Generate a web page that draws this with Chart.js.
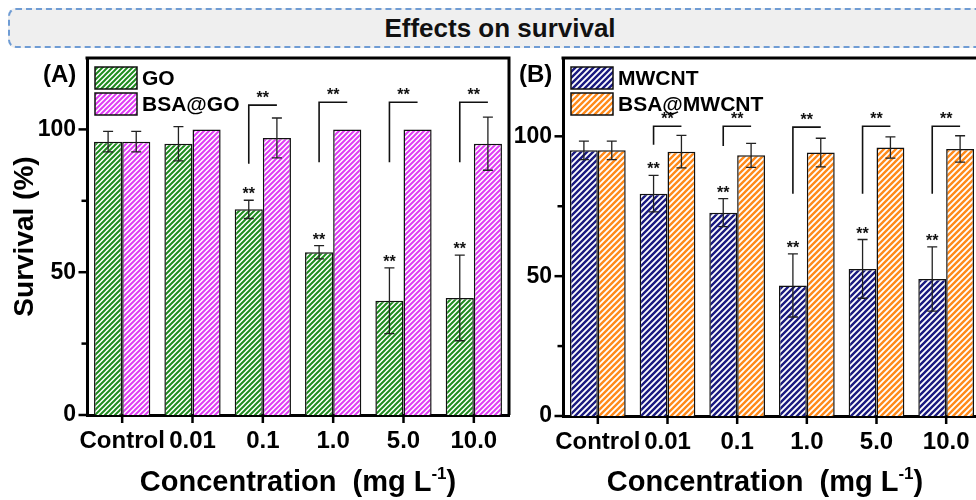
<!DOCTYPE html>
<html>
<head>
<meta charset="utf-8">
<title>Effects on survival</title>
<script src="https://cdn.jsdelivr.net/npm/chart.js@4.4.1/dist/chart.umd.min.js"></script>
<style>
  html, body { margin: 0; padding: 0; background: #fff; overflow: hidden; }
  body { width: 976px; height: 500px; position: relative; font-family: "Liberation Sans", Arial, sans-serif; }
  #banner {
    position: absolute; left: 8px; top: 8px; width: 984px; height: 40px;
    box-sizing: border-box; background: #efefef;
    border: 2px dashed #6f9cd4; border-radius: 8px;
    text-align: center; line-height: 36px;
    font-weight: bold; font-size: 26px; color: #111;
  }
  canvas { position: absolute; top: 0; }
  #panelA { left: 0; }
  #panelB { left: 505px; }
</style>
</head>
<body>
<div id="banner">Effects on survival</div>
<canvas id="panelA" width="520" height="500"></canvas>
<canvas id="panelB" width="490" height="500"></canvas>
<script>
// concentrations (mg/L), shared by both panels
const concentrations = ['Control', '0.01', '0.1', '1.0', '5.0', '10.0'];

// survival (%) and SD, panel A
const goSurvival    = [95.7, 95.0, 72.0, 57.0, 40.0, 41.0];
const goError       = [3.6, 6.0, 3.2, 2.3, 11.5, 15.0];
const bsaGoSurvival = [95.7, 100, 97.0, 100, 100, 95.0];
const bsaGoError    = [3.6, 0, 7.0, 0, 0, 9.3];

// survival (%) and SD, panel B
const mwcntSurvival    = [95.0, 79.5, 72.7, 46.7, 52.6, 49.0];
const mwcntError       = [3.3, 6.5, 5.0, 11.3, 10.5, 11.5];
const bsaMwcntSurvival = [95.0, 94.5, 93.2, 94.2, 96.0, 95.5];
const bsaMwcntError    = [3.3, 5.8, 4.3, 5.1, 3.8, 4.7];

// ** vs control over the bare material
const goStars    = [false, false, true, true, true, true];
const mwcntStars = [false, true, true, true, true, true];
// bare vs coated brackets: leg bottom / top, in % survival
const goBracketLow     = [null, null, 88, 88.5, 88.5, 88.5];
const goBracketHigh    = [null, null, 108.5, 109.5, 109.5, 109.5];
const mwcntBracketLow  = [null, 97, 96.5, 79.5, 79.5, 79.5];
const mwcntBracketHigh = [null, 103.6, 103.6, 103.3, 103.6, 103.6];

const yTickValues = [0, 25, 50, 75, 100];

const FONT = '"Liberation Sans", Arial, sans-serif';

function hatch(ctx, color, size, width) {
  const tile = document.createElement('canvas');
  tile.width = size; tile.height = size;
  const g = tile.getContext('2d');
  g.fillStyle = '#fff';
  g.fillRect(0, 0, size, size);
  g.strokeStyle = color;
  g.lineWidth = width;
  g.beginPath();
  g.moveTo(-1, size + 1); g.lineTo(size + 1, -1);
  g.moveTo(-1, 1); g.lineTo(1, -1);
  g.moveTo(size - 1, size + 1); g.lineTo(size + 1, size - 1);
  g.stroke();
  return ctx.createPattern(tile, 'repeat');
}

// frame, tick marks, error bars, significance marks, legend and titles
const panelDecor = {
  id: 'panelDecor',
  afterDatasetsDraw(chart, args, o) {
    const ctx = chart.ctx;
    const {left, right, top, bottom} = chart.chartArea;
    const xs = chart.scales.x, ys = chart.scales.y;
    ctx.save();

    ctx.strokeStyle = '#000';
    ctx.lineWidth = 3;
    ctx.beginPath();
    ctx.moveTo(left - 1.5, top);
    ctx.lineTo(right, top);
    ctx.lineTo(right, bottom);
    ctx.stroke();

    ctx.lineWidth = 2.5;
    yTickValues.forEach(v => {
      const py = ys.getPixelForValue(v);
      const len = v % 50 === 0 ? 7 : 4;
      ctx.beginPath();
      ctx.moveTo(left - 1.5 - len, py);
      ctx.lineTo(left, py);
      ctx.stroke();
    });
    xs.ticks.forEach((t, i) => {
      const px = xs.getPixelForTick(i);
      ctx.beginPath();
      ctx.moveTo(px, bottom);
      ctx.lineTo(px, bottom + 8);
      ctx.stroke();
    });

    // error bars
    ctx.strokeStyle = '#222';
    ctx.lineWidth = 1.3;
    chart.data.datasets.forEach((ds, di) => {
      chart.getDatasetMeta(di).data.forEach((bar, i) => {
        const e = ds.errors[i];
        if (!e) return;
        const v = ds.data[i];
        const y1 = ys.getPixelForValue(v + e), y2 = ys.getPixelForValue(v - e);
        ctx.beginPath();
        ctx.moveTo(bar.x, y1); ctx.lineTo(bar.x, y2);
        ctx.moveTo(bar.x - 5, y1); ctx.lineTo(bar.x + 5, y1);
        ctx.moveTo(bar.x - 5, y2); ctx.lineTo(bar.x + 5, y2);
        ctx.stroke();
      });
    });

    // ** over bare material, brackets between bare and coated
    const m0 = chart.getDatasetMeta(0), m1 = chart.getDatasetMeta(1);
    const bare = chart.data.datasets[0];
    ctx.fillStyle = '#111';
    ctx.font = 'bold 16px ' + FONT;
    ctx.textAlign = 'center';
    ctx.textBaseline = 'alphabetic';
    o.stars.forEach((s, i) => {
      if (!s) return;
      const py = ys.getPixelForValue(bare.data[i] + bare.errors[i]);
      ctx.fillText('**', m0.data[i].x, py - 1);
    });
    ctx.strokeStyle = '#111';
    ctx.lineWidth = 1.6;
    o.bracketLow.forEach((lo, i) => {
      if (lo == null) return;
      const xa = m0.data[i].x, xb = m1.data[i].x;
      const ylo = ys.getPixelForValue(lo), yhi = ys.getPixelForValue(o.bracketHigh[i]);
      ctx.beginPath();
      ctx.moveTo(xa, ylo); ctx.lineTo(xa, yhi); ctx.lineTo(xb, yhi);
      ctx.stroke();
      ctx.fillText('**', (xa + xb) / 2, yhi - 2);
    });

    // legend
    ctx.textAlign = 'left';
    ctx.textBaseline = 'middle';
    chart.data.datasets.forEach((ds, di) => {
      const sx = left + 8, sy = top + 9 + di * 26;
      ctx.fillStyle = ds.backgroundColor;
      ctx.fillRect(sx, sy, 42, 22);
      ctx.strokeStyle = '#111';
      ctx.lineWidth = 1.5;
      ctx.strokeRect(sx, sy, 42, 22);
      ctx.fillStyle = '#000';
      ctx.font = 'bold 21px ' + FONT;
      ctx.fillText(ds.label, sx + 47, sy + 12);
    });

    // panel letter
    ctx.font = 'bold 24px ' + FONT;
    ctx.fillText(o.panel, left - 44, 75);

    // x title with superscript
    const t1 = 'Concentration  (mg L', t2 = '-1', t3 = ')';
    ctx.font = 'bold 29px ' + FONT;
    const w1 = ctx.measureText(t1).width, w3 = ctx.measureText(t3).width;
    ctx.font = 'bold 17px ' + FONT;
    const w2 = ctx.measureText(t2).width;
    let tx = (left + right) / 2 + o.titleShift - (w1 + w2 + w3) / 2;
    const base = 491;
    ctx.textBaseline = 'alphabetic';
    ctx.font = 'bold 29px ' + FONT;
    ctx.fillText(t1, tx, base);
    ctx.font = 'bold 17px ' + FONT;
    ctx.fillText(t2, tx + w1, base - 12);
    ctx.font = 'bold 29px ' + FONT;
    ctx.fillText(t3, tx + w1 + w2, base);

    if (o.yTitle) {
      ctx.translate(25, (top + bottom) / 2);
      ctx.rotate(-Math.PI / 2);
      ctx.textAlign = 'center';
      ctx.textBaseline = 'middle';
      ctx.font = 'bold 28px ' + FONT;
      ctx.fillText(o.yTitle, 0, 0);
    }
    ctx.restore();
  }
};

function makePanel(id, series, decor, yMax, yWidth, xHeight, padRight) {
  const canvas = document.getElementById(id);
  const ctx = canvas.getContext('2d');
  return new Chart(ctx, {
    type: 'bar',
    data: {
      labels: concentrations,
      datasets: series.map(s => ({
        label: s.label,
        data: s.data,
        errors: s.errors,
        backgroundColor: hatch(ctx, s.color, s.tile, s.line),
        borderColor: '#111',
        borderWidth: 1.5,
        categoryPercentage: 0.8,
        barPercentage: 1.0
      }))
    },
    options: {
      responsive: false,
      animation: false,
      devicePixelRatio: 1,
      layout: { padding: { top: 58, right: padRight, left: 0, bottom: 0 } },
      plugins: {
        legend: { display: false },
        tooltip: { enabled: false },
        panelDecor: decor
      },
      scales: {
        x: {
          grid: { display: false, drawTicks: false },
          border: { display: true, width: 3, color: '#000' },
          ticks: {
            color: '#000', padding: 12, maxRotation: 0, autoSkip: false,
            font: { family: FONT, size: 24, weight: 'bold' }
          },
          afterFit(s) { s.height = xHeight; }
        },
        y: {
          min: 0,
          max: yMax,
          grid: { display: false, drawTicks: false },
          border: { display: true, width: 3, color: '#000' },
          ticks: {
            stepSize: 50, color: '#000', padding: 11,
            font: { family: FONT, size: 23, weight: 'bold' }
          },
          afterBuildTicks(s) { s.ticks = s.ticks.filter(t => t.value % 50 === 0); },
          afterFit(s) { s.width = yWidth; }
        }
      }
    },
    plugins: [panelDecor]
  });
}

makePanel('panelA', [
  { label: 'GO', data: goSurvival, errors: goError, color: '#1e8c1e', tile: 5, line: 2 },
  { label: 'BSA@GO', data: bsaGoSurvival, errors: bsaGoError, color: '#e03cf5', tile: 5, line: 2 }
], {
  panel: '(A)', yTitle: 'Survival (%)', titleShift: 0,
  stars: goStars, bracketLow: goBracketLow, bracketHigh: goBracketHigh
}, 125, 87, 85, 11);

makePanel('panelB', [
  { label: 'MWCNT', data: mwcntSurvival, errors: mwcntError, color: '#1a1a80', tile: 6, line: 2.4 },
  { label: 'BSA@MWCNT', data: bsaMwcntSurvival, errors: bsaMwcntError, color: '#ff8a1a', tile: 6, line: 2.4 }
], {
  panel: '(B)', yTitle: null, titleShift: -7,
  stars: mwcntStars, bracketLow: mwcntBracketLow, bracketHigh: mwcntBracketHigh
}, 128, 58, 84, 14);
</script>
</body>
</html>
